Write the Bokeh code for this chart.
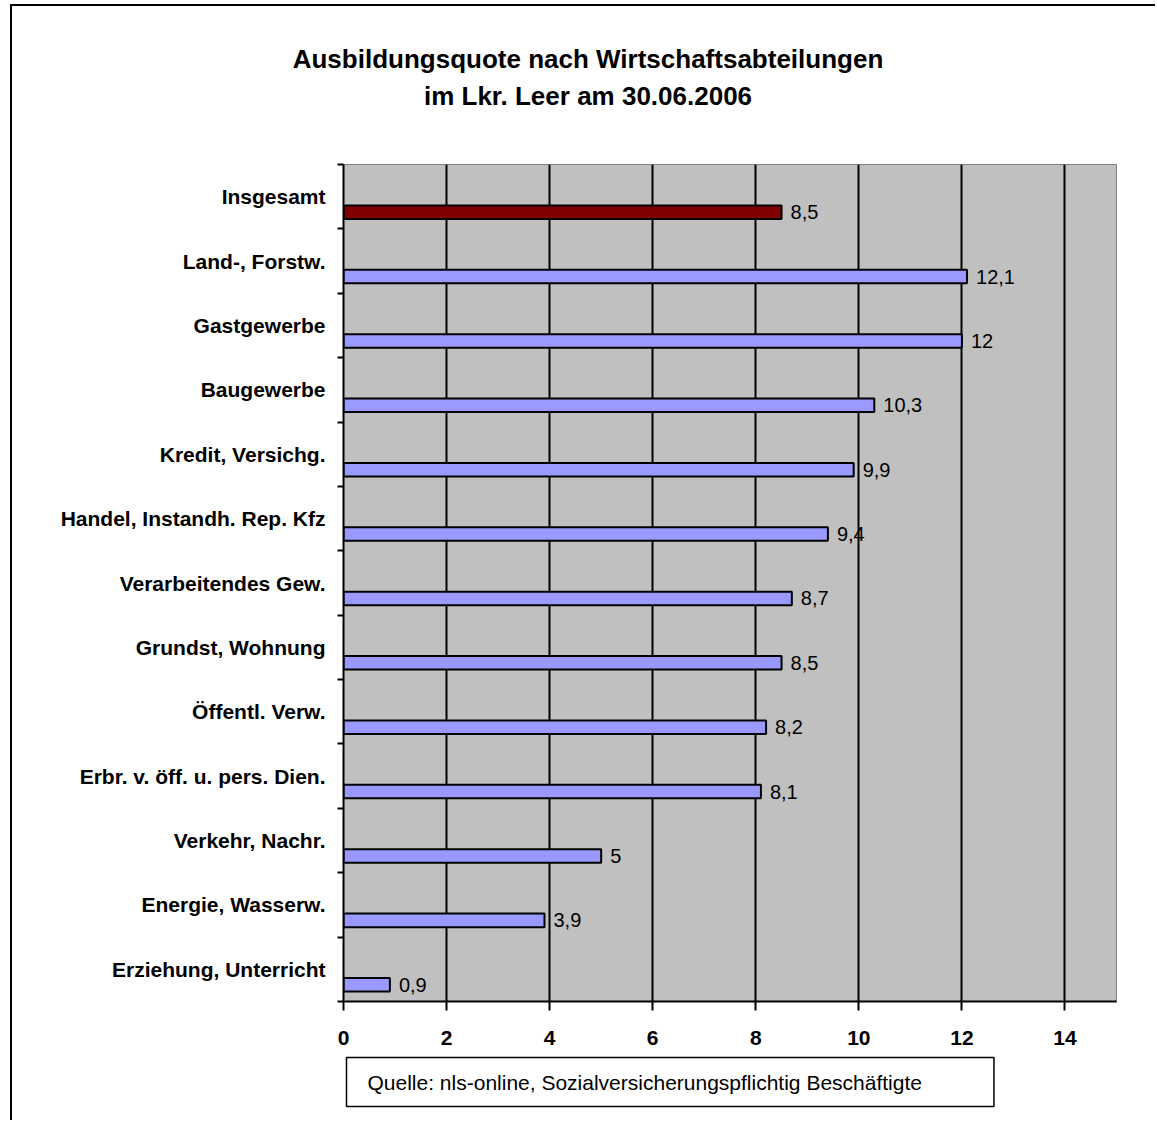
from bokeh.plotting import figure
from bokeh.models import ColumnDataSource, FixedTicker, Range1d, Title
from bokeh.core.properties import value
from bokeh.embed import file_html
from bokeh.resources import INLINE

# Ausbildungsquote (%) by economic sector, Lkr. Leer, 30.06.2006
categories = [
    "Insgesamt",
    "Land-, Forstw.",
    "Gastgewerbe",
    "Baugewerbe",
    "Kredit, Versichg.",
    "Handel, Instandh. Rep. Kfz",
    "Verarbeitendes Gew.",
    "Grundst, Wohnung",
    "Öffentl. Verw.",
    "Erbr. v. öff. u. pers. Dien.",
    "Verkehr, Nachr.",
    "Energie, Wasserw.",
    "Erziehung, Unterricht",
]
values = [8.5, 12.1, 12, 10.3, 9.9, 9.4, 8.7, 8.5, 8.2, 8.1, 5, 3.9, 0.9]
x_ticks = [0, 2, 4, 6, 8, 10, 12, 14]
title_lines = ["Ausbildungsquote nach Wirtschaftsabteilungen",
               "im Lkr. Leer am 30.06.2006"]
source_note = "Quelle: nls-online, Sozialversicherungspflichtig Beschäftigte"

TOTAL_COLOR = "#800000"
SECTOR_COLOR = "#9999FF"
FONT = "Liberation Sans"

n = len(categories)
# first category at the top; bars sit in the lower half of their band
pos = [n - 1 - i for i in range(n)]
bar_y = [p_ - 0.24 for p_ in pos]
colors = [TOTAL_COLOR] + [SECTOR_COLOR] * (n - 1)
labels = [f"{v:g}".replace(".", ",") for v in values]

src = ColumnDataSource(dict(y=bar_y, value=values, color=colors, label=labels))

# the chart sits inside a frame whose left/top edges are drawn by CSS
W, H = 1145, 1116
FL, FR, FT, FB = 331, 1104, 158, 995   # plot frame edges on the canvas

p = figure(width=W, height=H,
           x_range=Range1d(0, 15), y_range=Range1d(-0.5, n - 0.5),
           output_backend="svg", toolbar_location=None,
           min_border_left=FL, min_border_right=W - FR,
           min_border_top=FT, min_border_bottom=H - FB)
p.styles = {"margin-left": "10px", "margin-top": "4px",
            "border-left": "2px solid black", "border-top": "2px solid black"}

p.background_fill_color = "#C0C0C0"
p.border_fill_color = "white"
p.outline_line_color = "#808080"
p.outline_line_width = 1

# grid
p.ygrid.visible = False
p.xgrid.ticker = FixedTicker(ticks=x_ticks[1:])
p.xgrid.grid_line_color = "black"
p.xgrid.grid_line_width = 2

# bars and value labels
p.hbar(y="y", left=0, right="value", height=0.21, source=src,
       fill_color="color", line_color="black", line_width=2)
p.text(x="value", y="y", text="label", source=src, x_offset=9,
       text_baseline="middle", text_align="left",
       text_font=value(FONT), text_font_size="20px", text_color="black")

# x axis
xa = p.xaxis[0]
xa.ticker = FixedTicker(ticks=x_ticks)
xa.axis_line_width = 2
xa.axis_line_color = "black"
xa.major_tick_out = 9
xa.major_tick_in = 0
xa.major_tick_line_width = 2
xa.minor_tick_line_color = None
xa.major_label_standoff = 20
xa.major_label_text_font = FONT
xa.major_label_text_font_style = "bold"
xa.major_label_text_font_size = "21px"
xa.major_label_text_color = "black"

# y axis: names at the band centres, ticks between the bands
ya = p.yaxis[0]
ya.ticker = FixedTicker(ticks=pos, minor_ticks=[k - 0.5 for k in range(n + 1)])
ya.major_label_overrides = {p_: c for p_, c in zip(pos, categories)}
ya.axis_line_width = 2
ya.axis_line_color = "black"
ya.major_tick_line_color = None
ya.major_tick_out = 0
ya.major_tick_in = 0
ya.minor_tick_out = 6
ya.minor_tick_in = 0
ya.minor_tick_line_width = 2
ya.minor_tick_line_color = "black"
ya.major_label_standoff = 12
ya.major_label_text_font = FONT
ya.major_label_text_font_style = "bold"
ya.major_label_text_font_size = "21px"
ya.major_label_text_color = "black"

# two-line title; the right padding moves each line left of the frame centre.
# The line nearest the frame is added first.
for text, pad_bottom in [(title_lines[1], 54), (title_lines[0], 5)]:
    p.add_layout(Title(text=text, align="center", standoff=0,
                       padding=dict(left=0, right=284, top=0, bottom=pad_bottom),
                       text_font=FONT, text_font_style="bold",
                       text_font_size="26px", text_line_height=1.0,
                       text_color="black"), "above")

# source note in a framed box under the axis
p.add_layout(Title(text=source_note,
                   align="left", offset=3, standoff=16,
                   text_font=FONT, text_font_style="normal",
                   text_font_size="21px", text_color="black",
                   border_line_color="black", border_line_width=1.5,
                   background_fill_color="white",
                   padding=dict(left=21, right=72, top=13, bottom=13)), "below")

open("out.html", "w").write(file_html(p, INLINE))
